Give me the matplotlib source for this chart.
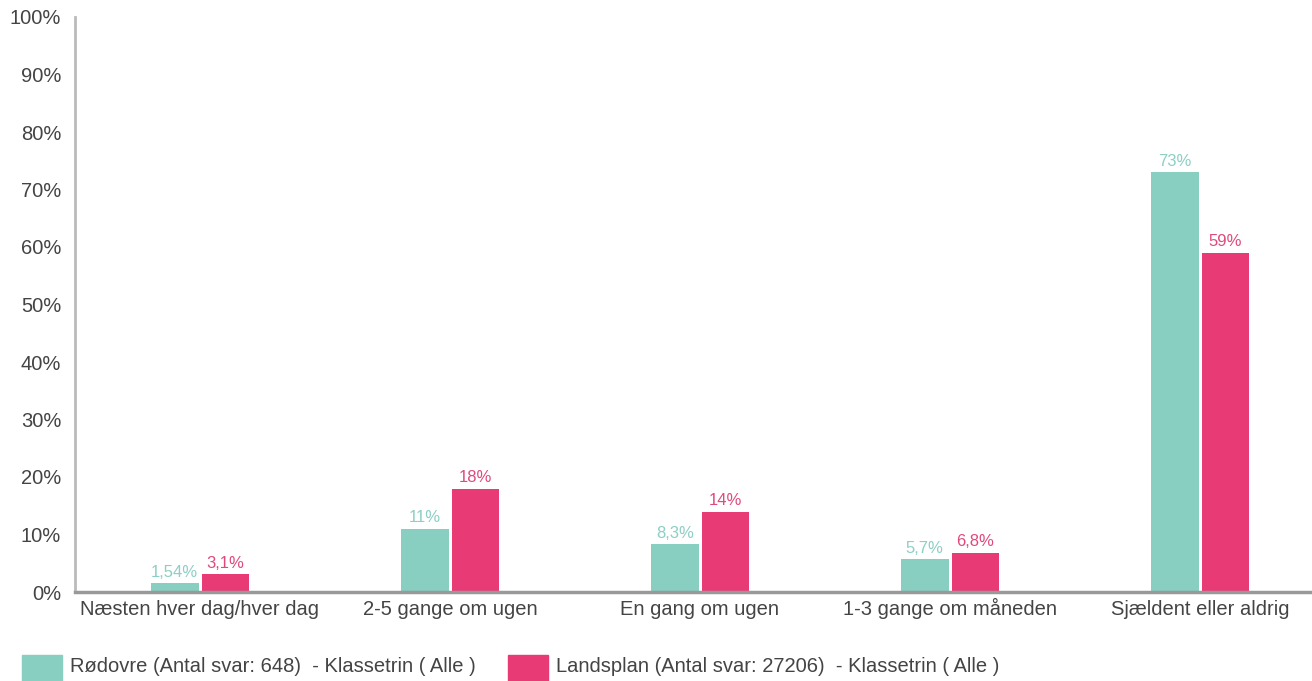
"""Bar chart: Rødovre vs Landsplan, frequency of answers."""
import matplotlib.pyplot as plt
import numpy as np
from matplotlib.patches import Rectangle

categories = [
    "Næsten hver dag/hver dag",
    "2-5 gange om ugen",
    "En gang om ugen",
    "1-3 gange om måneden",
    "Sjældent eller aldrig",
]
rodovre = [1.54, 11, 8.3, 5.7, 73]
landsplan = [3.1, 18, 14, 6.8, 59]
rodovre_labels = ["1,54%", "11%", "8,3%", "5,7%", "73%"]
landsplan_labels = ["3,1%", "18%", "14%", "6,8%", "59%"]
legend_labels = [
    "Rødovre (Antal svar: 648)  - Klassetrin ( Alle )",
    "Landsplan (Antal svar: 27206)  - Klassetrin ( Alle )",
]

TEAL = "#88cfc1"
PINK = "#e83a74"
TEAL_TXT = "#8ccfc4"
PINK_TXT = "#df4a7c"
GREY = "#444444"

plt.rcParams["font.family"] = ["Liberation Sans", "DejaVu Sans"]

fig = plt.figure(figsize=(13.12, 6.81), dpi=100)
W, H = 1312, 681
ax = fig.add_axes([75 / W, 1 - 592 / H, 1 - 75 / W, (592 - 17) / H])

x = np.arange(len(categories))
bw = 0.19
off = 0.101
b1 = ax.bar(x - off, rodovre, bw, color=TEAL, zorder=1)
b2 = ax.bar(x + off, landsplan, bw, color=PINK, zorder=1)

for rect, lab in zip(b1, rodovre_labels):
    ax.annotate(lab, (rect.get_x() + rect.get_width() / 2, rect.get_height()),
                xytext=(0, 2.5), textcoords="offset points", ha="center",
                va="bottom", fontsize=12, color=TEAL_TXT)
for rect, lab in zip(b2, landsplan_labels):
    ax.annotate(lab, (rect.get_x() + rect.get_width() / 2, rect.get_height()),
                xytext=(0, 2.5), textcoords="offset points", ha="center",
                va="bottom", fontsize=12, color=PINK_TXT)

ax.set_xlim(-0.5, (W - 200) / 250)
ax.set_ylim(0, 100)
ax.set_yticks(np.arange(0, 101, 10))
ax.set_yticklabels([f"{v}%" for v in range(0, 101, 10)])
ax.set_xticks(x)
ax.set_xticklabels(categories)
ax.tick_params(axis="both", length=0, labelsize=14.5, colors=GREY)
ax.tick_params(axis="y", pad=10)
ax.tick_params(axis="x", pad=16.5)
for lab in ax.get_xticklabels():
    lab.set_va("baseline")

for s in ("top", "right"):
    ax.spines[s].set_visible(False)
ax.spines["left"].set_color("#bbbbbb")
ax.spines["left"].set_linewidth(2)
ax.spines["bottom"].set_color("#999999")
ax.spines["bottom"].set_linewidth(2.5)
ax.spines["bottom"].set_zorder(3)

# legend drawn at the bottom of the figure
for xl, col, lab in [(22, TEAL, legend_labels[0]), (508, PINK, legend_labels[1])]:
    fig.add_artist(Rectangle((xl / W, 0), 40 / W, (H - 655) / H,
                             transform=fig.transFigure, color=col))
    fig.text((xl + 48) / W, 1 - 667 / H, lab, fontsize=14.5, color=GREY,
             va="center", ha="left")

fig.savefig("out.png", dpi=100)
